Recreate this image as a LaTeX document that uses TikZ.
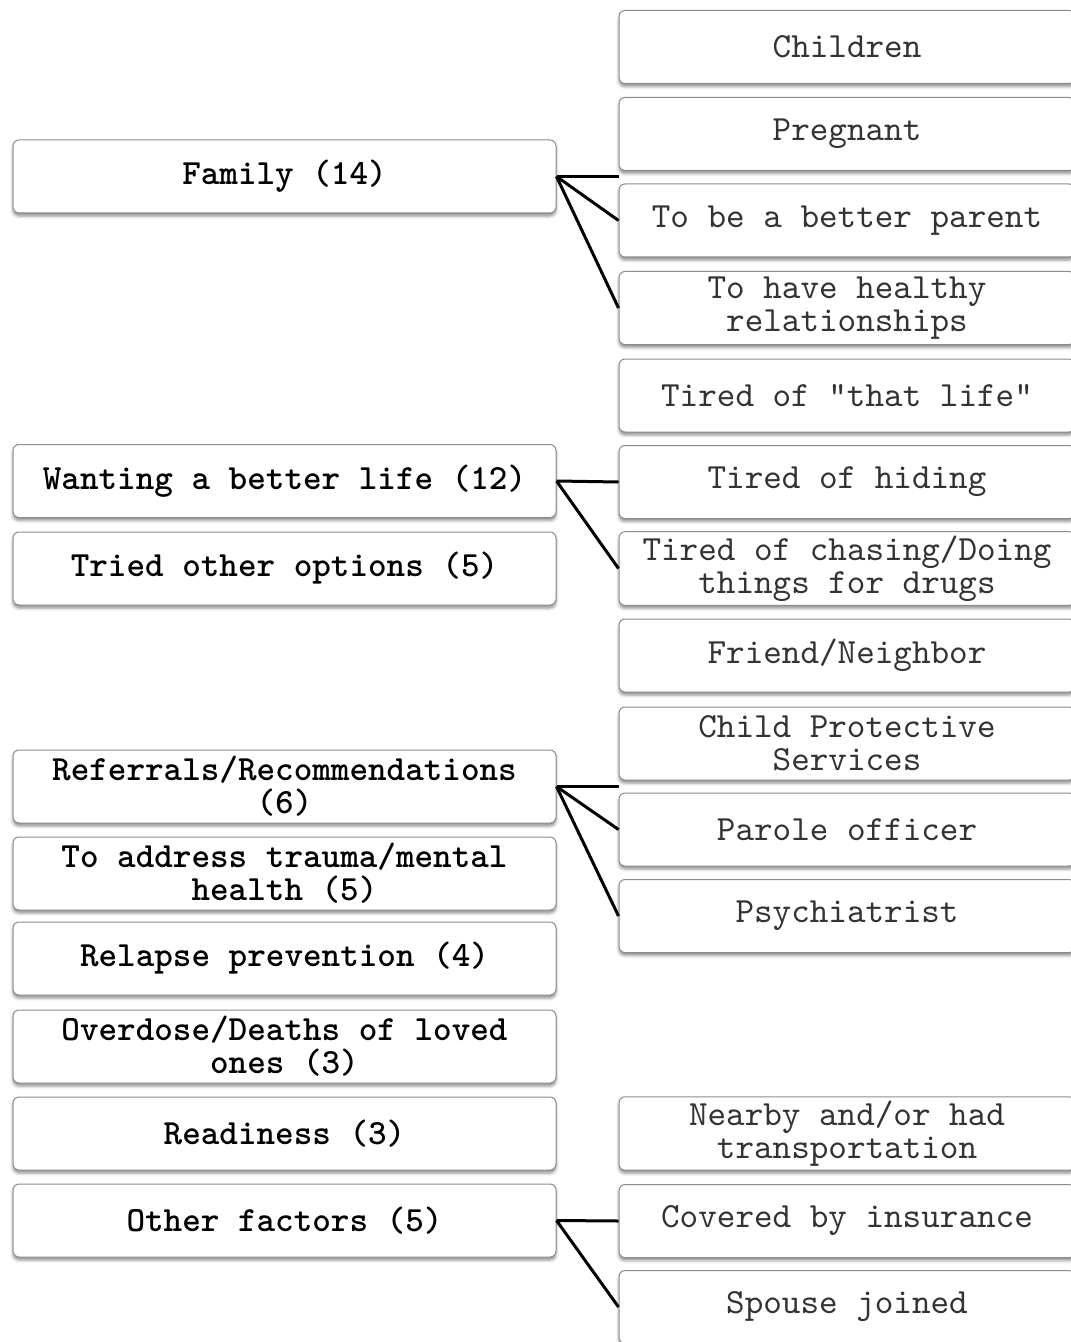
\documentclass[tikz,border=0pt]{standalone}
\usepackage{fontspec}
\setmonofont{lmmono10-regular.otf}[BoldFont=lmmonolt10-bold.otf]
\usetikzlibrary{calc,shadows.blur}

\newcommand\boxfont{\ttfamily\fontsize{17.7}{16.5}\selectfont}

\tikzset{
  box/.style={draw=black!45, line width=0.5pt, rounded corners=3pt, fill=white,
    blur shadow={shadow xshift=0pt, shadow yshift=-1.5pt, shadow blur radius=1.5pt, shadow opacity=45},
    minimum height=36.5pt, align=flush center, inner sep=2pt, font=\boxfont},
  reason/.style={box, minimum width=271.5pt, text width=255pt, font=\boxfont\bfseries},
  detail/.style={box, minimum width=228pt, text width=218pt, text=black!80},
  link/.style={line width=1.5pt}
}

\begin{document}
\begin{tikzpicture}[x=0.5pt,y=-0.5pt]
\useasboundingbox (0,0) rectangle (1070,1342);

\node[reason] (fam) at (284.5,176.5) {Family (14)};
\node[reason] (better) at (284.5,481) {Wanting a better life (12)};
\node[reason] (tried) at (284.5,568.5) {Tried other options (5)};
\node[reason] (refer) at (284.5,786.5) {Referrals/Recommendations (6)};
\node[reason] (trauma) at (284.5,873.5) {To address trauma/mental health (5)};
\node[reason] (relapse) at (284.5,958.5) {Relapse prevention (4)};
\node[reason] (overdose) at (284.5,1046.5) {Overdose/Deaths of loved ones (3)};
\node[reason] (ready) at (284.5,1133.5) {Readiness (3)};
\node[reason] (other) at (284.5,1220.5) {Other factors (5)};

\node[detail] (children) at (847,47) {Children};
\node[detail] (pregnant) at (847,134) {Pregnant};
\node[detail] (parent) at (847,220.5) {To be a better parent};
\node[detail] (healthy) at (847,308) {To have healthy relationships};
\node[detail] (thatlife) at (847,395.5) {Tired of "that life"};
\node[detail] (hiding) at (847,482) {Tired of hiding};
\node[detail] (chasing) at (847,568.5) {Tired of chasing/Doing things for drugs};
\node[detail] (friend) at (847,655.5) {Friend/Neighbor};
\node[detail] (cps) at (847,743.5) {Child Protective Services};
\node[detail] (parole) at (847,829.5) {Parole officer};
\node[detail] (psych) at (847,916) {Psychiatrist};
\node[detail] (nearby) at (847,1133.5) {Nearby and/or had transportation};
\node[detail] (insur) at (847,1221) {Covered by insurance};
\node[detail] (spouse) at (847,1307) {Spouse joined};

\coordinate (famgap) at ($(pregnant.south west)!0.5!(parent.north west)$);
\coordinate (refgap) at ($(cps.south west)!0.5!(parole.north west)$);

\draw[link] (fam.east) -- (fam.east -| famgap);
\draw[link] (fam.east) -- (parent.west);
\draw[link] (fam.east) -- (healthy.west);

\draw[link] (better.east) -- (hiding.west);
\draw[link] (better.east) -- (chasing.west);

\draw[link] (refer.east) -- (refer.east -| refgap);
\draw[link] (refer.east) -- (parole.west);
\draw[link] (refer.east) -- (psych.west);

\draw[link] (other.east) -- (insur.west);
\draw[link] (other.east) -- (spouse.west);
\end{tikzpicture}
\end{document}
